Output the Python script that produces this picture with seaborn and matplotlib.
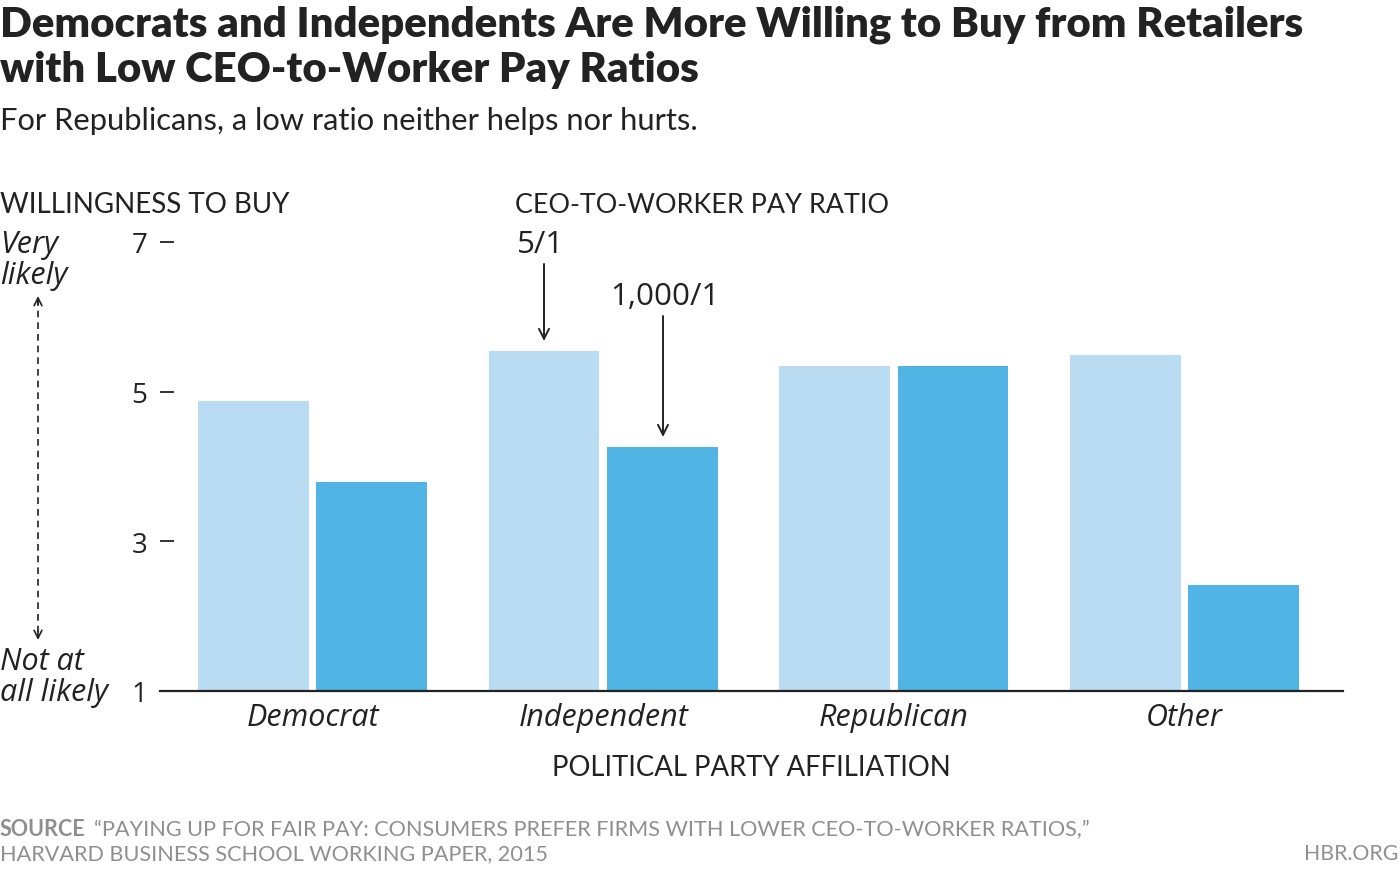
import matplotlib
matplotlib.use("Agg")
import matplotlib.pyplot as plt
import pandas as pd
import seaborn as sns
from matplotlib.lines import Line2D

parties = ["Democrat", "Independent", "Republican", "Other"]
ratios = ["5/1", "1,000/1"]
low_ratio = [4.88, 5.54, 5.34, 5.49]
high_ratio = [3.79, 4.26, 5.34, 2.41]
y_ticks = [1, 3, 5, 7]

df = pd.DataFrame({
    "party": parties * 2,
    "ratio": [ratios[0]] * 4 + [ratios[1]] * 4,
    "score": low_ratio + high_ratio,
})

sns.set_style("white")
plt.rcParams["font.family"] = ["Lato", "DejaVu Sans"]
wide = ["Open Sans", "DejaVu Sans"]

W, H = 1400, 870
fig = plt.figure(figsize=(14, 8.7), dpi=100)


def fx(x):
    return x / W


def fy(y):
    return 1 - y / H


dark = "#222222"
grey = "#8f8f8f"

ax = fig.add_axes([fx(160), fy(692), fx(1343) - fx(160), fy(243) - fy(692)])
sns.barplot(data=df, x="party", y="score", hue="ratio", order=parties,
            hue_order=ratios, palette=["#badcf3", "#50b4e5"], saturation=1,
            width=0.814, gap=0.064, linewidth=0, ax=ax, legend=False)

ax.set_ylim(1, 7)
ax.set_xlim(-0.525, 3.545)
ax.set_yticks(y_ticks)
ax.set_yticklabels([str(t) for t in y_ticks], fontsize=20, color=dark,
                   family=wide)
ax.tick_params(axis="y", direction="in", length=10, width=1.3, color=dark,
               pad=9, left=True)
ax.tick_params(axis="x", length=0, pad=8)
for lbl in ax.get_xticklabels():
    lbl.set_fontstyle("italic")
    lbl.set_family(wide)
    lbl.set_fontsize(22)
    lbl.set_color(dark)
sns.despine(ax=ax, left=True)
ax.spines["bottom"].set_color(dark)
ax.spines["bottom"].set_linewidth(1.6)
ax.set_xlabel("POLITICAL PARTY AFFILIATION", fontsize=19.8, color=dark,
              labelpad=16)
ax.set_ylabel("")

# titles
fig.text(fx(0), fy(36), "Democrats and Independents Are More Willing to Buy from Retailers",
         fontsize=30.2, fontweight="heavy", color=dark, va="baseline")
fig.text(fx(0), fy(82), "with Low CEO-to-Worker Pay Ratios",
         fontsize=30.2, fontweight="heavy", color=dark, va="baseline")
fig.text(fx(0), fy(130), "For Republicans, a low ratio neither helps nor hurts.",
         fontsize=22.2, color=dark, va="baseline")

fig.text(fx(0), fy(213), "WILLINGNESS TO BUY", fontsize=20, color=dark,
         va="baseline")
fig.text(fx(515), fy(213), "CEO-TO-WORKER PAY RATIO", fontsize=19.4,
         color=dark, va="baseline")
for txt, yb in [("Very", 253), ("likely", 284), ("Not at", 670),
                ("all likely", 701)]:
    fig.text(fx(0), fy(yb), txt, fontsize=22, style="italic", family=wide,
             color=dark, va="baseline")

# dashed double arrow on the left
fig.add_artist(Line2D([fx(38), fx(38)], [fy(300), fy(638)], color=dark,
                      lw=1.2, ls=(0, (4, 3)), transform=fig.transFigure))
for y0, y1 in [(306, 297), (632, 641)]:
    fig.add_artist(plt.Annotation("", xy=(fx(38), fy(y1)), xytext=(fx(38), fy(y0)),
                                  xycoords=fig.transFigure,
                                  arrowprops=dict(arrowstyle="->", lw=1.2,
                                                  color=dark, shrinkA=0,
                                                  shrinkB=0, mutation_scale=14)))

# bar annotations
fig.text(fx(541), fy(253), "5/1", fontsize=22.5, color=dark, ha="center",
         va="baseline", family=wide)
fig.text(fx(665), fy(305), "1,000/1", fontsize=22.5, color=dark, ha="center",
         va="baseline", family=wide)
for x, y0, y1 in [(544, 265, 342), (663, 317, 438)]:
    fig.add_artist(plt.Annotation("", xy=(fx(x), fy(y1)), xytext=(fx(x), fy(y0)),
                                  xycoords=fig.transFigure,
                                  arrowprops=dict(arrowstyle="->", lw=1.4,
                                                  color=dark, shrinkA=0,
                                                  shrinkB=0, mutation_scale=18)))

# footer
fig.text(fx(0), fy(836), "SOURCE", fontsize=15.5, fontweight="bold",
         color=grey, va="baseline")
fig.text(fx(94), fy(836),
         "\u201cPAYING UP FOR FAIR PAY: CONSUMERS PREFER FIRMS WITH LOWER CEO-TO-WORKER RATIOS,\u201d",
         fontsize=15.6, color=grey, va="baseline")
fig.text(fx(0), fy(860), "HARVARD BUSINESS SCHOOL WORKING PAPER, 2015",
         fontsize=15.6, color=grey, va="baseline")
fig.text(fx(1398), fy(860), "HBR.ORG", fontsize=15.3, color=grey,
         ha="right", va="baseline")

fig.savefig("out.png", dpi=100)
plt.close(fig)
